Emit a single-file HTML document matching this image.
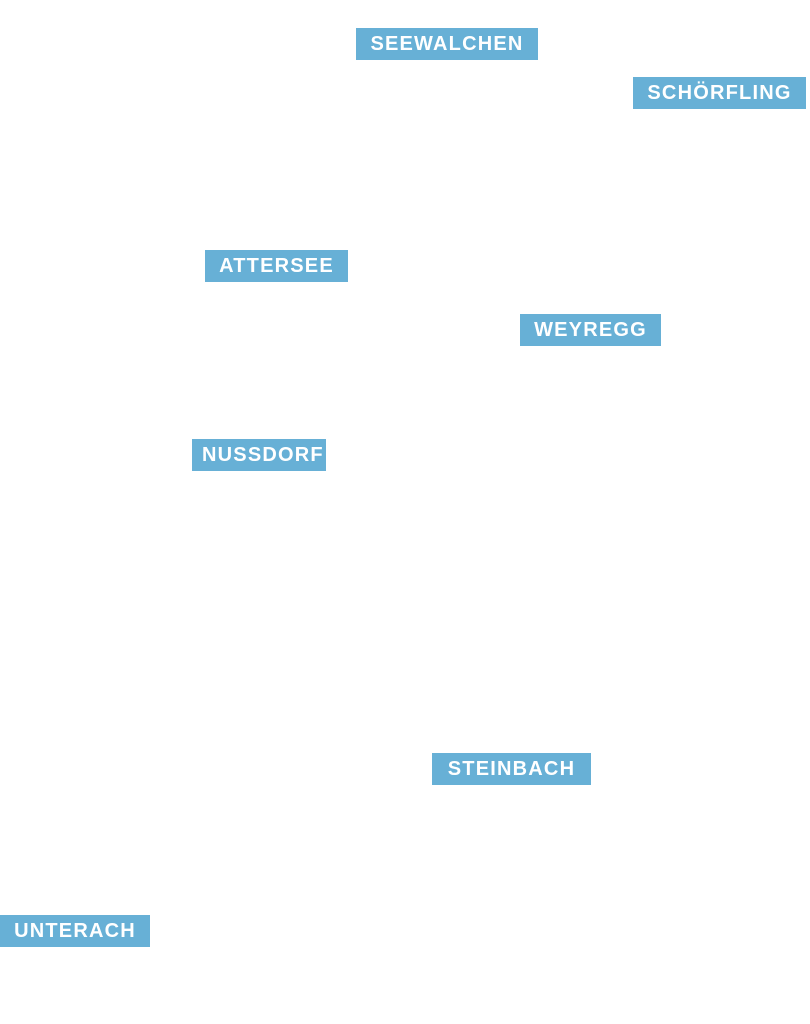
<!DOCTYPE html>
<html><head><meta charset="utf-8"><style>
html,body{margin:0;padding:0;background:#fff;width:810px;height:1024px;overflow:hidden;position:relative}
.l{position:absolute;height:32px;background:#67b0d6;color:#fff;font-family:"Liberation Sans",sans-serif;font-weight:bold;font-size:20px;letter-spacing:1.2px;line-height:33px;text-align:center;overflow:hidden;white-space:nowrap}
</style></head><body>
<div class="l" style="left:356px;top:28px;width:182px">SEEWALCHEN</div>
<div class="l" style="left:633px;top:77px;width:173px">SCHÖRFLING</div>
<div class="l" style="left:205px;top:250px;width:143px">ATTERSEE</div>
<div class="l" style="left:520px;top:314px;width:141px">WEYREGG</div>
<div class="l" style="left:192px;top:439px;width:134px;text-align:left;padding-left:10px;box-sizing:border-box">NUSSDORF</div>
<div class="l" style="left:432px;top:753px;width:159px">STEINBACH</div>
<div class="l" style="left:0px;top:915px;width:150px">UNTERACH</div>
</body></html>
